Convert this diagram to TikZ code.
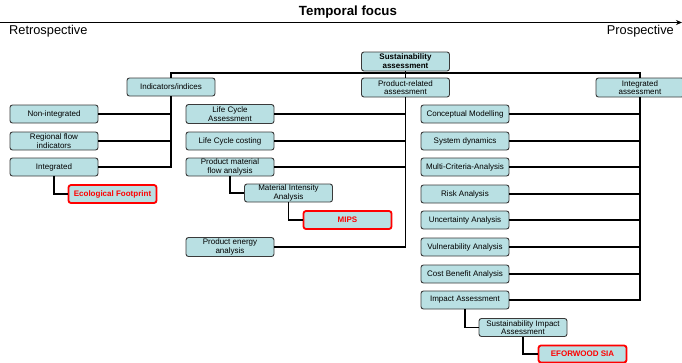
\documentclass[tikz,border=0pt]{standalone}
\usepackage{fontspec}
\setmainfont{Liberation Sans}
\usetikzlibrary{arrows.meta}
\definecolor{boxfill}{HTML}{B9E0E3}
\definecolor{boxline}{HTML}{3A3A3A}
\tikzset{
  box/.style={draw=boxline, line width=0.9pt, fill=boxfill, rounded corners=2.5pt,
    minimum width=88pt, minimum height=18pt, inner sep=0pt, align=center,
    font=\fontsize{8}{8.6}\selectfont},
  redbox/.style={box, draw=red, line width=1.8pt, text=red,
    font=\fontsize{8}{8.6}\selectfont\bfseries},
  conn/.style={line width=1.9pt, black},
}
\begin{document}
\begin{tikzpicture}[x=1pt, y=-1pt]
\useasboundingbox (0,0) rectangle (682,362);
% temporal axis
\coordinate (axL) at (0,22.5);
\coordinate (axR) at (682,22.5);
\draw[line width=1.4pt, -{Stealth[length=6pt,width=5pt]}] (axL) -- (axR);
\node[font=\fontsize{13.3}{15}\selectfont\bfseries] (tf) at (348,12) {Temporal focus};
\node[font=\fontsize{12.8}{14}\selectfont, anchor=west, inner sep=0pt] (retro) at (9,31.5) {Retrospective};
\node[font=\fontsize{12.8}{14}\selectfont, anchor=east, inner sep=0pt] (prosp) at (674,31.5) {Prospective};

% top
\node[box, minimum height=19pt, font=\fontsize{8}{8.8}\selectfont\bfseries] (sust) at (405.5,61.5) {Sustainability\\assessment};
\node[box] (ind) at (171,87) {Indicators/indices};
\node[box, minimum height=19pt] (prod) at (405.5,87.5) {Product-related\\assessment};
\node[box, minimum height=19pt] (integ) at (640,87.5) {Integrated\\assessment};

% column A
\node[box] (a1) at (54,114) {Non-integrated};
\node[box] (a2) at (54,141) {Regional flow\\indicators};
\node[box] (a3) at (54,167) {Integrated};
\node[redbox] (ef) at (112.5,194) {Ecological Footprint};

% column B
\node[box, minimum height=19pt] (b1) at (230,114) {Life Cycle\\Assessment};
\node[box] (b2) at (230,141) {Life Cycle costing};
\node[box] (b3) at (230,167) {Product material\\flow analysis};
\node[box] (b4) at (288.5,193) {Material Intensity\\Analysis};
\node[redbox] (mips) at (347.5,220) {MIPS};
\node[box, minimum height=19pt] (b5) at (230,247) {Product energy\\analysis};

% column C
\node[box] (c1) at (465,114) {Conceptual Modelling};
\node[box] (c2) at (465,141) {System dynamics};
\node[box] (c3) at (465,167) {Multi-Criteria-Analysis};
\node[box] (c4) at (465,194) {Risk Analysis};
\node[box] (c5) at (465,220) {Uncertainty Analysis};
\node[box] (c6) at (465,247) {Vulnerability Analysis};
\node[box] (c7) at (465,274) {Cost Benefit Analysis};
\node[box] (c8) at (465,300) {Impact Assessment};
\node[box] (sia) at (523,327.5) {Sustainability Impact\\Assessment};
\node[redbox, minimum height=17pt] (efw) at (582.5,354) {EFORWOOD SIA};

% bus
\coordinate (bus) at (0,73);
\draw[conn] (sust.south) -- (prod.north);
\draw[conn] (ind.north) -- (ind.north |- bus) -- (integ.north |- bus) -- (integ.north);

% indicator trunk
\draw[conn] (ind.south) -- (ind.south |- a3.east) -- (a3.east);
\draw[conn] (a1.east) -- (a1.east -| ind.south);
\draw[conn] (a2.east) -- (a2.east -| ind.south);
\draw[conn] (a3.south) |- (ef.west);

% product trunk
\draw[conn] (prod.south) -- (prod.south |- b5.east) -- (b5.east);
\draw[conn] (b1.east) -- (b1.east -| prod.south);
\draw[conn] (b2.east) -- (b2.east -| prod.south);
\draw[conn] (b3.east) -- (b3.east -| prod.south);
\draw[conn] (b3.south) |- (b4.west);
\draw[conn] (b4.south) |- (mips.west);

% integrated trunk
\draw[conn] (integ.south) -- (integ.south |- c8.east) -- (c8.east);
\foreach \n in {c1,c2,c3,c4,c5,c6,c7}{
  \draw[conn] (\n.east) -- (\n.east -| integ.south);
}
\draw[conn] (c8.south) |- (sia.west);
\draw[conn] (sia.south) |- (efw.west);
\end{tikzpicture}
\end{document}
